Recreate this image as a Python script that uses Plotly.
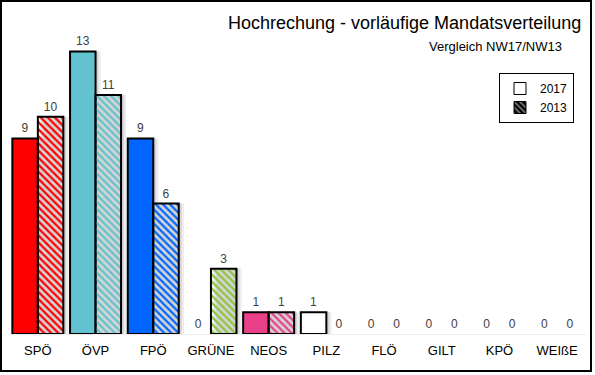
import plotly.graph_objects as go

categories = ["SPÖ", "ÖVP", "FPÖ", "GRÜNE", "NEOS", "PILZ", "FLÖ", "GILT", "KPÖ", "WEIßE"]
seats_2017 = [9, 13, 9, 0, 1, 1, 0, 0, 0, 0]
seats_2013 = [10, 11, 6, 3, 1, 0, 0, 0, 0, 0]
party_colors = ["#FF0000", "#62C2CF", "#0066FF", "#92D050", "#E8418A", "#FFFFFF",
                "#FFFFFF", "#FFFFFF", "#FFFFFF", "#FFFFFF"]
stripe_colors = ["#FF0000", "#62C2CF", "#0066FF", "#8CC63F", "#E8418A", "#FFFFFF",
                 "#FFFFFF", "#FFFFFF", "#FFFFFF", "#FFFFFF"]
series_names = ["2017", "2013"]

W, H = 595, 375
L, R, T, B = 9, 9, 8, 41
PW, PH = W - L - R, H - T - B

FONT = "Arial, Liberation Sans, sans-serif"
BW = 0.442


def outline_widths(vals):
    # no outline for empty (zero-height) bars
    return [2 if v else 0 for v in vals]


fig = go.Figure()

# soft drop shadows
for vals, off in [(seats_2017, -BW), (seats_2013, 0.0)]:
    for k, a in [(0.05, 0.10), (0.09, 0.07)]:
        fig.add_trace(go.Bar(
            x=categories, y=vals, width=BW, offset=off + k,
            marker=dict(color=f"rgba(0,0,0,{a})", line=dict(width=0)),
            showlegend=False, hoverinfo="skip"))

fig.add_trace(go.Bar(
    x=categories, y=seats_2017, width=BW, offset=-BW, name=series_names[0],
    marker=dict(color=party_colors,
                line=dict(color="black", width=outline_widths(seats_2017))),
    text=seats_2017, textposition="outside", cliponaxis=False,
    textfont=dict(family=FONT, size=12, color="#404040"),
    showlegend=False))

fig.add_trace(go.Bar(
    x=categories, y=seats_2013, width=BW, offset=0.0, name=series_names[1],
    marker=dict(color=stripe_colors,
                line=dict(color="black", width=outline_widths(seats_2013)),
                pattern=dict(shape="\\", fgcolor=stripe_colors, bgcolor="white",
                             size=5, solidity=0.45, fillmode="replace")),
    text=seats_2013, textposition="outside", cliponaxis=False,
    textfont=dict(family=FONT, size=12, color="#404040"),
    showlegend=False))

# legend-only entries
fig.add_trace(go.Bar(x=[None], y=[None], name=series_names[0],
                     marker=dict(color="white", line=dict(color="black", width=1))))
fig.add_trace(go.Bar(x=[None], y=[None], name=series_names[1],
                     marker=dict(color="black", line=dict(color="black", width=1),
                                 pattern=dict(shape="\\", fgcolor="white", bgcolor="black",
                                              size=5, solidity=0.4))))


def px_x(p):
    return (p - L) / PW


def px_y(p):
    return (H - B - p) / PH


fig.update_layout(
    width=W, height=H,
    margin=dict(l=L, r=R, t=T, b=B, pad=0, autoexpand=False),
    paper_bgcolor="white", plot_bgcolor="white",
    barmode="overlay",
    font=dict(family=FONT, color="black"),
    showlegend=True,
    legend=dict(x=px_x(574), y=px_y(73), xanchor="right", yanchor="top",
                bordercolor="black", borderwidth=1, bgcolor="white",
                font=dict(size=12, family=FONT), itemwidth=30,
                traceorder="normal", tracegroupgap=0),
    xaxis=dict(type="category", showgrid=False, showline=True, linecolor="#ececec",
               linewidth=1, ticks="", ticklabelstandoff=4,
               tickfont=dict(size=13, family=FONT, color="black"),
               range=[-0.5, len(categories) - 0.5], fixedrange=True),
    yaxis=dict(range=[0, 15], showgrid=False, showticklabels=False, zeroline=False,
               showline=False, fixedrange=True),
    annotations=[
        dict(text="Hochrechung - vorläufige Mandatsverteilung", xref="paper", yref="paper",
             x=px_x(583), y=px_y(23), xanchor="right", yanchor="middle", showarrow=False,
             font=dict(size=18, family=FONT, color="black")),
        dict(text="Vergleich NW17/NW13", xref="paper", yref="paper",
             x=px_x(564), y=px_y(47), xanchor="right", yanchor="middle", showarrow=False,
             font=dict(size=13, family=FONT, color="black")),
    ],
    shapes=[dict(type="rect", xref="paper", yref="paper",
                 x0=px_x(1), x1=px_x(591), y0=px_y(371), y1=px_y(1),
                 line=dict(color="black", width=2), fillcolor="rgba(0,0,0,0)", layer="above")],
)

fig.write_html("out.html", config={"displayModeBar": False},
               post_script="document.body.style.margin='0';")
